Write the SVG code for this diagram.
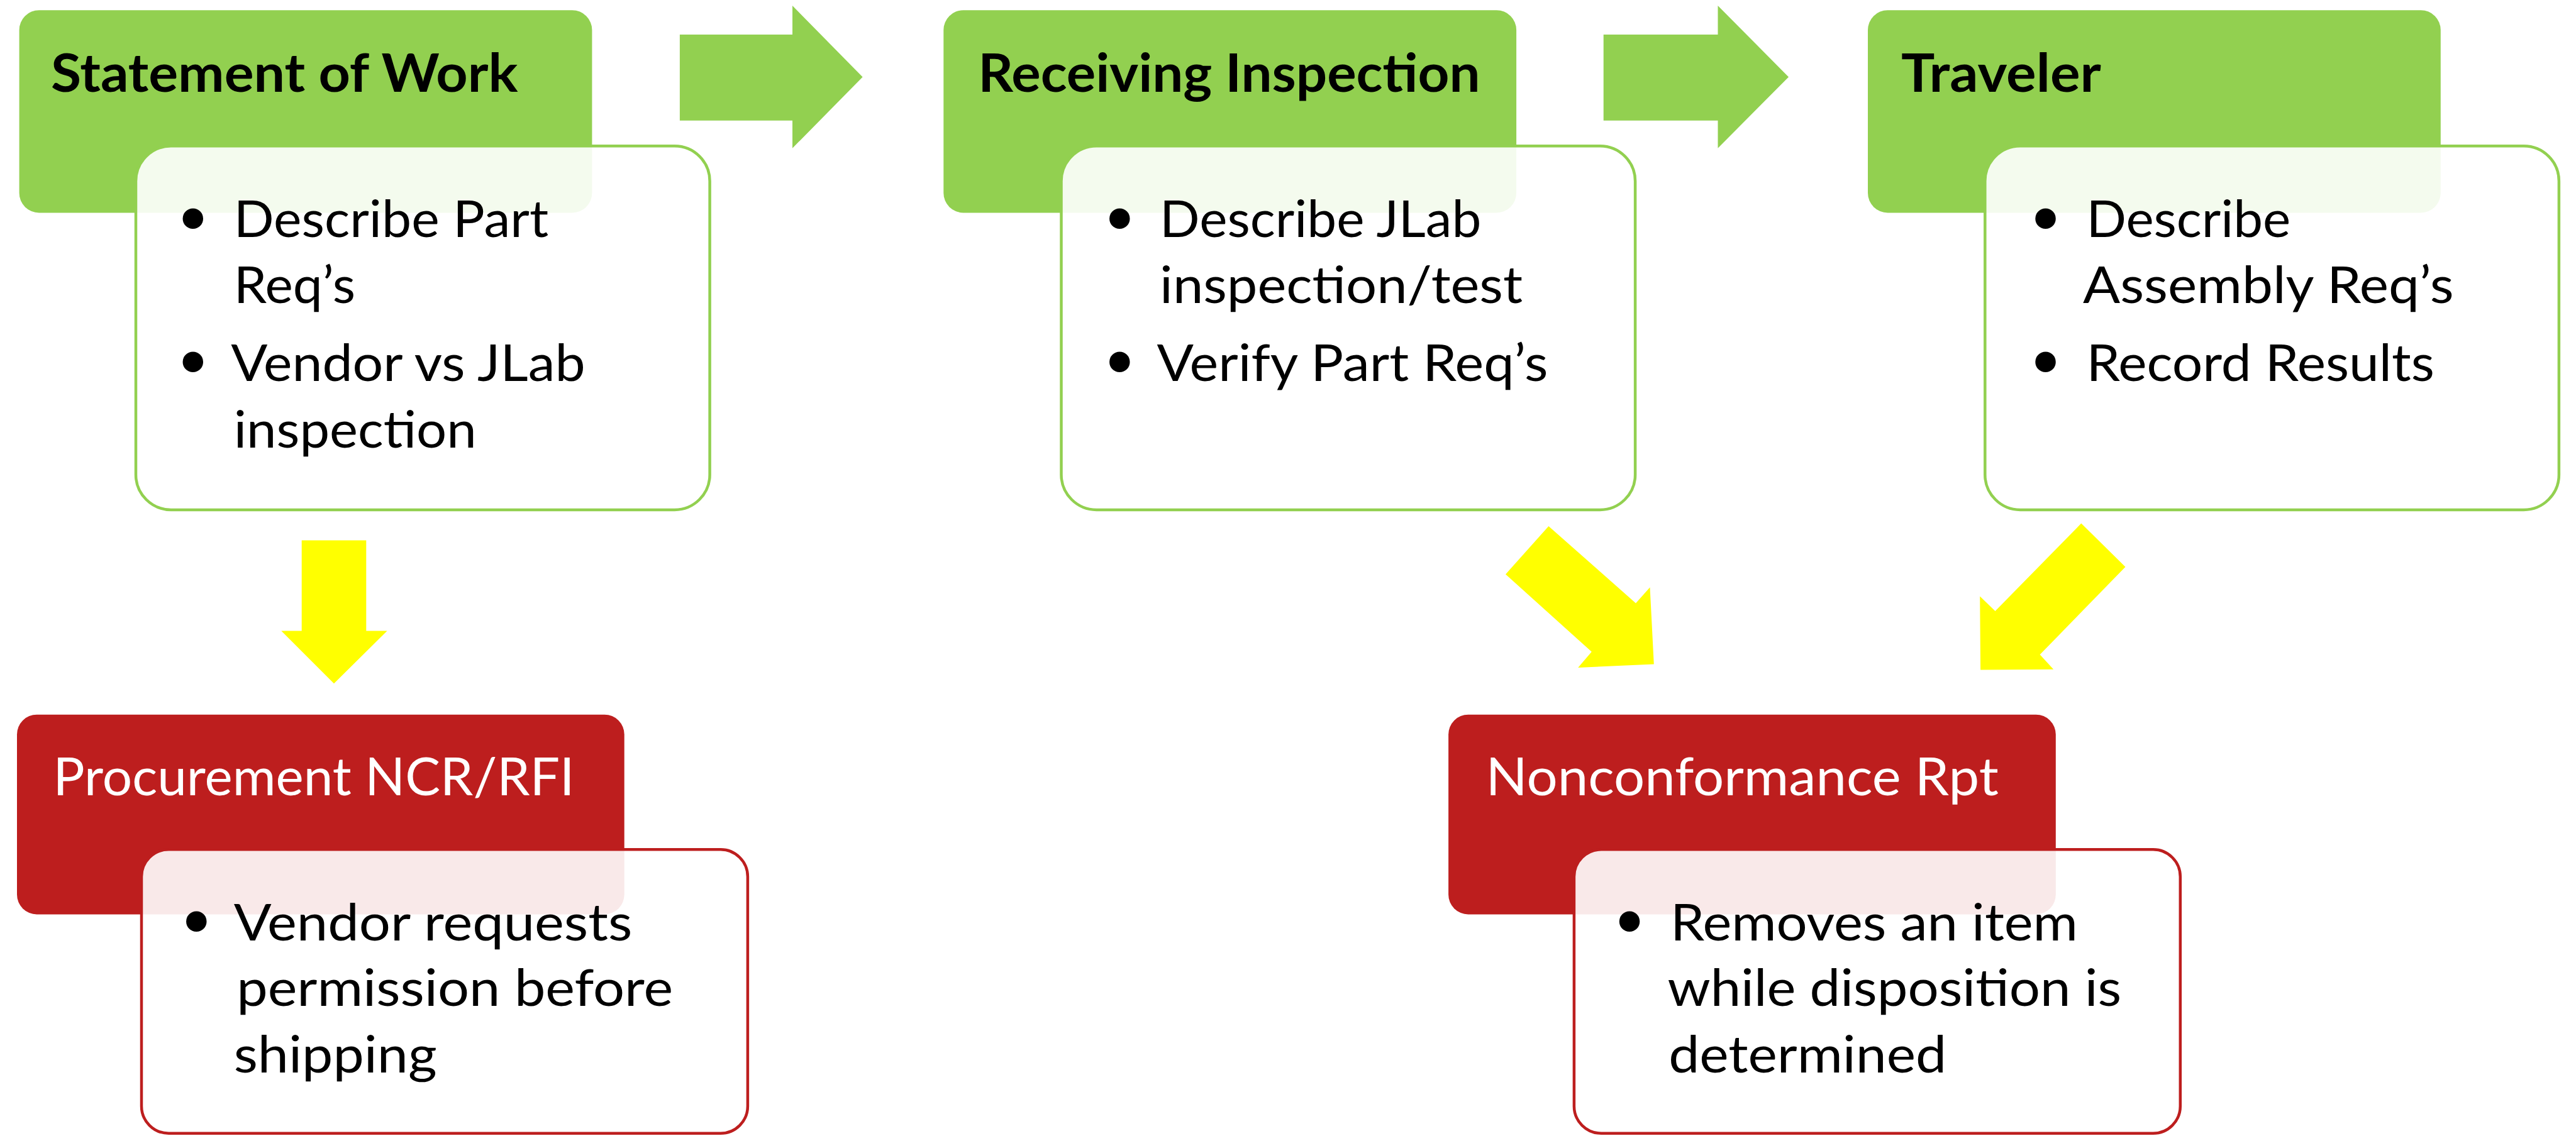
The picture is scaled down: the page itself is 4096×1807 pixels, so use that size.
<svg xmlns="http://www.w3.org/2000/svg" width="4096" height="1807" viewBox="0 0 4096 1807">
<style>
.hg{fill:#92D050}
.bg{fill:#FFFFFF;fill-opacity:0.9;stroke:#92D050;stroke-width:4.5}
.hr{fill:#BD1E1E}
.br{fill:#FFFFFF;fill-opacity:0.9;stroke:#BD1E1E;stroke-width:4.5}
.ag{fill:#92D050}
.ay{fill:#FFFF00}
.th{font-family:Lato,"Liberation Sans",sans-serif;font-weight:700;font-size:85px;fill:#000}
.tr{font-family:Lato,"Liberation Sans",sans-serif;font-weight:400;font-size:83px;fill:#FFF}
.tb{font-family:Lato,"Liberation Sans",sans-serif;font-weight:400;font-size:82px;fill:#000}
.bu{font-family:"DejaVu Sans",sans-serif;font-size:112px;fill:#000;text-anchor:middle}
</style>
<rect width="4096" height="1807" fill="#FFFFFF"/>
<g id="connectors">
<polygon class="ag" points="1080.9,54.9 1260,54.9 1260,9 1371.6,122.4 1260,235.8 1260,191.7 1080.9,191.7"/>
<polygon class="ag" points="2549.7,54.9 2731.5,54.9 2731.5,9 2844,122.4 2731.5,235.8 2731.5,191.7 2549.7,191.7"/>
<polygon class="ay" points="479.7,859.5 582.3,859.5 582.3,1003.5 615.6,1003.5 531,1087.2 447.3,1003.5 479.7,1003.5"/>
<polygon class="ay" points="2462.4,837 2601,959.4 2623.5,934.2 2629.8,1056.6 2509.2,1062 2530.8,1036.8 2394,913.5"/>
<polygon class="ay" points="3309.3,832.5 3379.5,901.8 3243.6,1041.3 3265.2,1064.7 3149.1,1065.6 3148.2,948.6 3172.5,972"/>
</g>
<g id="statement-of-work">
<rect class="hg" x="30.6" y="16.2" width="910.8" height="322.2" rx="31.5"/>
<text class="th" x="81" y="145.8" textLength="742.5" lengthAdjust="spacingAndGlyphs">Statement of Work</text>
<rect class="bg" x="216" y="232.2" width="912.6" height="578.7" rx="56"/>
<text class="bu" x="306.9" y="389.8">•</text>
<text class="bu" x="306.9" y="617.5">•</text>
<text class="tb" x="371.7" y="377.1" textLength="500.4" lengthAdjust="spacingAndGlyphs">Describe Part</text>
<text class="tb" x="371.7" y="482.4" textLength="193.5" lengthAdjust="spacingAndGlyphs">Req’s</text>
<text class="tb" x="367.2" y="605.7" textLength="563.4" lengthAdjust="spacingAndGlyphs">Vendor vs JLab</text>
<text class="tb" x="371.7" y="711.9" textLength="386.1" lengthAdjust="spacingAndGlyphs">inspection</text>
</g>
<g id="receiving-inspection">
<rect class="hg" x="1500.3" y="16.2" width="910.8" height="322.2" rx="31.5"/>
<text class="th" x="1555.2" y="145.8" textLength="798.3" lengthAdjust="spacingAndGlyphs">Receiving Inspection</text>
<rect class="bg" x="1687.5" y="232.2" width="912.6" height="578.7" rx="56"/>
<text class="bu" x="1780.2" y="389.8">•</text>
<text class="bu" x="1780.2" y="617.5">•</text>
<text class="tb" x="1844.1" y="377.1" textLength="511.2" lengthAdjust="spacingAndGlyphs">Describe JLab</text>
<text class="tb" x="1844.1" y="482.4" textLength="576.9" lengthAdjust="spacingAndGlyphs">inspection/test</text>
<text class="tb" x="1839.6" y="605.7" textLength="621.9" lengthAdjust="spacingAndGlyphs">Verify Part Req’s</text>
</g>
<g id="traveler">
<rect class="hg" x="2970" y="16.2" width="910.8" height="322.2" rx="31.5"/>
<text class="th" x="3023.1" y="145.8" textLength="317.7" lengthAdjust="spacingAndGlyphs">Traveler</text>
<rect class="bg" x="3156.3" y="232.2" width="912.6" height="578.7" rx="56"/>
<text class="bu" x="3252.6" y="389.8">•</text>
<text class="bu" x="3252.6" y="617.5">•</text>
<text class="tb" x="3317.4" y="377.1" textLength="324.9" lengthAdjust="spacingAndGlyphs">Describe</text>
<text class="tb" x="3312" y="482.4" textLength="589.5" lengthAdjust="spacingAndGlyphs">Assembly Req’s</text>
<text class="tb" x="3317.4" y="605.7" textLength="553.5" lengthAdjust="spacingAndGlyphs">Record Results</text>
</g>
<g id="procurement-ncr-rfi">
<rect class="hr" x="27" y="1136.7" width="965.7" height="317.7" rx="31.5"/>
<text class="tr" x="84.6" y="1265.4" textLength="828.9" lengthAdjust="spacingAndGlyphs">Procurement NCR/RFI</text>
<rect class="br" x="225" y="1351.35" width="963.9" height="451.35" rx="43.2"/>
<text class="bu" x="312.3" y="1507.6">•</text>
<text class="tb" x="371.7" y="1495.8" textLength="633.6" lengthAdjust="spacingAndGlyphs">Vendor requests</text>
<text class="tb" x="376.2" y="1600.2" textLength="693.9" lengthAdjust="spacingAndGlyphs">permission before</text>
<text class="tb" x="371.7" y="1705.5" textLength="323.1" lengthAdjust="spacingAndGlyphs">shipping</text>
</g>
<g id="nonconformance-rpt">
<rect class="hr" x="2303.1" y="1136.7" width="965.7" height="317.7" rx="31.5"/>
<text class="tr" x="2362.5" y="1265.4" textLength="815.4" lengthAdjust="spacingAndGlyphs">Nonconformance Rpt</text>
<rect class="br" x="2502.9" y="1351.35" width="963.9" height="451.35" rx="43.2"/>
<text class="bu" x="2591.1" y="1507.6">•</text>
<text class="tb" x="2655.9" y="1495.8" textLength="648" lengthAdjust="spacingAndGlyphs">Removes an item</text>
<text class="tb" x="2651.4" y="1600.2" textLength="721.8" lengthAdjust="spacingAndGlyphs">while disposition is</text>
<text class="tb" x="2653.2" y="1705.5" textLength="441.9" lengthAdjust="spacingAndGlyphs">determined</text>
</g>
</svg>
